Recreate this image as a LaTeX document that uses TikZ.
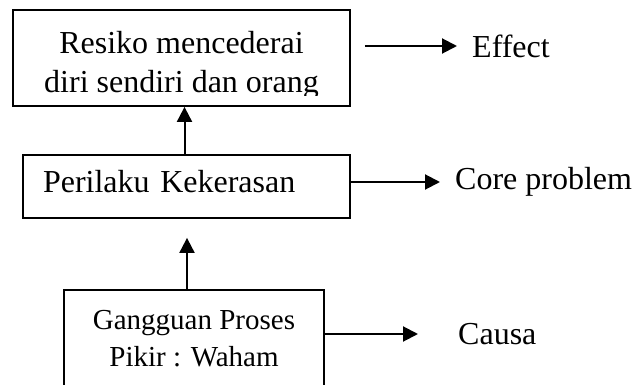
\documentclass[tikz,border=0pt]{standalone}
\usepackage{fontspec}
\setmainfont{Liberation Serif}
\usepackage{tikz}
\usetikzlibrary{arrows.meta, positioning}

\begin{document}
\begin{tikzpicture}[
    x=1pt, y=-1pt,
    box/.style={rectangle, draw, line width=1.8pt, inner sep=0pt},
    arrow/.style={-{Triangle[length=15pt, width=15pt]}, line width=2pt},
    label/.style={anchor=west, inner sep=0pt},
    every node/.append style={font=\fontsize{32}{39}\selectfont}
]
    \useasboundingbox (0,0) rectangle (637,385);
    \clip (0,0) rectangle (637,385);

    % Boxes
    \node[box, minimum width=337pt, minimum height=96pt] at (181.5,58) (effectBox) {};
    \begin{scope}
        \clip (effectBox.north west) rectangle ([yshift=11pt]effectBox.south east);
        \node[align=center, inner sep=0pt, anchor=north] at (181.5,31) (effectText) {Resiko mencederai\\diri sendiri dan orang};
    \end{scope}
    \node[box, text width=287pt, inner xsep=20pt, minimum height=63pt, text depth=11pt, align=left] at (186.5,186.5) (coreBox) {Perilaku Kekerasan};
    \node[box, minimum width=260pt, minimum height=98pt, align=center, font=\fontsize{29}{37}\selectfont] at (194,339) (causeBox) {Gangguan Proses\\Pikir : Waham};

    % Labels
    \node[label] at (472,46) (effectLabel) {Effect};
    \node[label] at (455,182) (coreLabel) {Core problem};
    \node[label] at (458,334) (causaLabel) {Causa};

    % Connections
    \draw[arrow, shorten <=14pt, shorten >=15pt] (effectBox.east |- effectLabel.west) -- (effectLabel.west);
    \draw[arrow, shorten >=15pt] (coreBox.east |- coreLabel.west) -- (coreLabel.west);
    \draw[arrow, shorten >=40pt] (causeBox.east |- causaLabel.west) -- (causaLabel.west);
    \draw[arrow] ([xshift=-2pt]coreBox.north) -- ([xshift=-2pt]coreBox.north |- effectBox.south);
    \draw[arrow, shorten >=19pt] ([xshift=-7pt]causeBox.north) -- ([xshift=-7pt]causeBox.north |- coreBox.south);

\end{tikzpicture}
\end{document}
